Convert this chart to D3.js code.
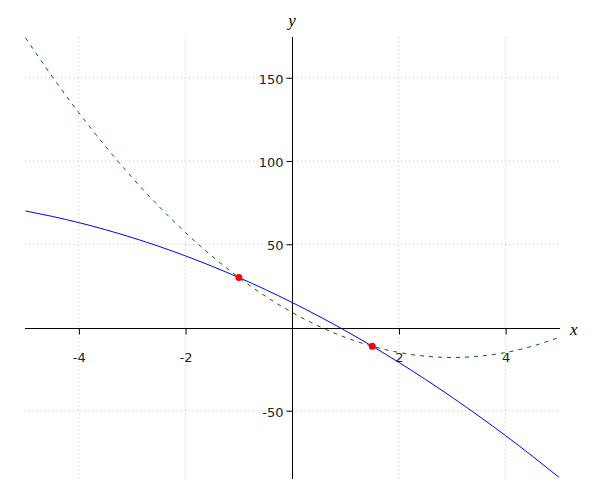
<!DOCTYPE html>
<html><head><meta charset="utf-8">
<script src="https://cdn.jsdelivr.net/npm/d3@7"></script>
<style>
html,body{margin:0;padding:0;background:#fff;}
svg{display:block;}
</style></head>
<body>
<svg id="chart" width="600" height="500"></svg>
<script>
// Data
const xs = [-5,-4.5,-4,-3.5,-3,-2.5,-2,-1.5,-1,-0.5,0,0.5,1,1.5,2,2.5,3,3.5,4,4.5,5];
const blueY = [70,66.75,63,58.75,54,48.75,43,36.75,30,22.75,15,6.75,-2,-11.25,-21,-31.25,-42,-53.25,-65,-77.25,-90];
const greenY = [174,150.75,129,108.75,90,72.75,57,42.75,30,18.75,9,0.75,-6,-11.25,-15,-17.25,-18,-17.25,-15,-11.25,-6];
const pointsX = [-1, 1.5];
const pointsY = [30, -11.25];
const xTicks = [-4,-2,2,4];
const yTicks = [-50,50,100,150];

const svg = d3.select("#chart");
const x = d3.scaleLinear().domain([-5,5]).range([25.5,559]);
const y = d3.scaleLinear().domain([-91,174.5]).range([479,37]);
const x0 = x(0), y0 = y(0);

// grid
const grid = svg.append("g");
grid.selectAll("line.v").data(xTicks).join("line")
  .attr("x1", d=>x(d)).attr("x2", d=>x(d)).attr("y1", 37).attr("y2", 479)
  .attr("stroke","#c8c8c8").attr("stroke-width",1).attr("stroke-dasharray","1,3");
grid.selectAll("line.h").data(yTicks).join("line")
  .attr("x1", 25).attr("x2", 560).attr("y1", d=>y(d)).attr("y2", d=>y(d))
  .attr("stroke","#c8c8c8").attr("stroke-width",1).attr("stroke-dasharray","1,3");

const fmt = d => String(d);

// axes
const xAxis = svg.append("g").attr("transform",`translate(0,${Math.round(y0)+0.5})`)
  .call(d3.axisBottom(x).tickValues(xTicks).tickFormat(fmt).tickSize(6).tickSizeOuter(0));
xAxis.select(".domain").remove();
xAxis.append("line").attr("x1",25).attr("x2",560).attr("stroke","#000");
xAxis.selectAll("text").attr("y",33).attr("dy","0").attr("fill","#222")
  .style("font-family","DejaVu Sans").style("font-size","13px");

const yAxis = svg.append("g").attr("transform",`translate(${Math.round(x0)+0.5},0)`)
  .call(d3.axisLeft(y).tickValues(yTicks).tickFormat(fmt).tickSize(6).tickSizeOuter(0));
yAxis.select(".domain").remove();
yAxis.append("line").attr("y1",37).attr("y2",479).attr("stroke","#000");
yAxis.selectAll("text").attr("x",-9).attr("dy","0.42em").attr("fill","#222")
  .style("font-family","DejaVu Sans").style("font-size","13px");

// axis labels
svg.append("text").attr("x",570).attr("y",335).text("x")
  .style("font-family","Liberation Serif").style("font-style","italic").style("font-size","17px");
svg.append("text").attr("x",292).attr("y",26).attr("text-anchor","middle").text("y")
  .style("font-family","Liberation Serif").style("font-style","italic").style("font-size","17px");

// curves
const line = d3.line().x(d=>x(d[0])).y(d=>y(d[1])).curve(d3.curveNatural);
svg.append("path").datum(xs.map((v,i)=>[v,greenY[i]])).attr("d",line)
  .attr("fill","none").attr("stroke","#006400").attr("stroke-width",1).attr("stroke-dasharray","4,5");
svg.append("path").datum(xs.map((v,i)=>[v,blueY[i]])).attr("d",line)
  .attr("fill","none").attr("stroke","#0000ff").attr("stroke-width",1);

// points
svg.selectAll("circle.pt").data(pointsX.map((v,i)=>[v,pointsY[i]])).join("circle")
  .attr("cx",d=>x(d[0])).attr("cy",d=>y(d[1])).attr("r",3.5).attr("fill","#ff0000");
</script>
</body></html>
